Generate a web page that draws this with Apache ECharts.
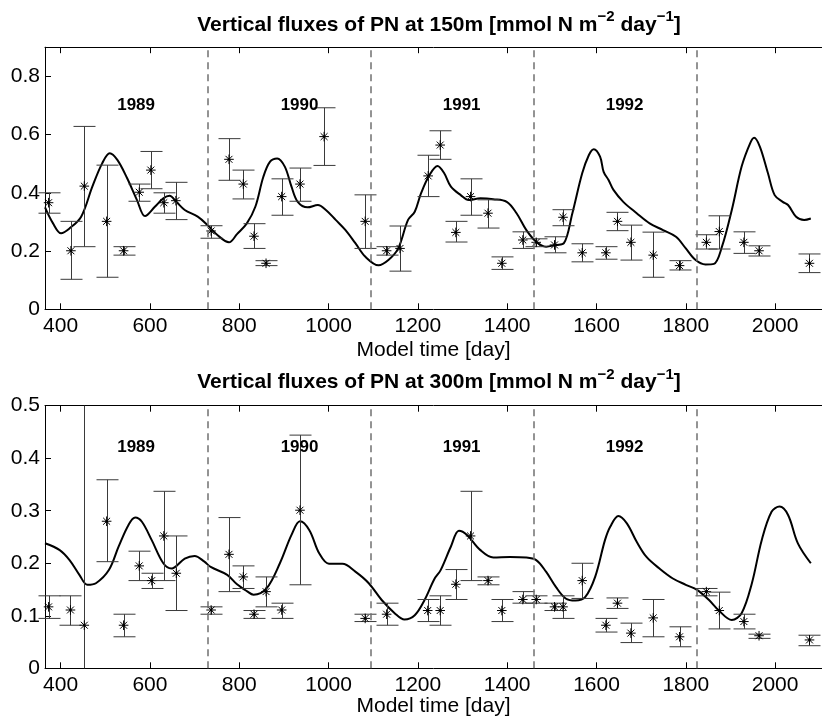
<!DOCTYPE html>
<html><head><meta charset="utf-8">
<script src="https://cdn.jsdelivr.net/npm/echarts@6/dist/echarts.min.js"></script>
<style>html,body{margin:0;padding:0;background:#fff}#c{width:822px;height:719px}</style>
</head><body><div id="c"></div>
<script>
// ---- tick labels / annotations ----
const xTicks = [400, 600, 800, 1000, 1200, 1400, 1600, 1800, 2000];
const yTicks150 = [0, 0.2, 0.4, 0.6, 0.8];
const yTicks300 = [0, 0.1, 0.2, 0.3, 0.4, 0.5];
const yearStarts = [730, 1095, 1460, 1825];
const yearLabels = ['1989', '1990', '1991', '1992'];
const yearLabelDays = [569, 935, 1298, 1663];
const yearLabelVal150 = 0.70;
const yearLabelVal300 = 0.42;

// ---- model curve, 150 m ----
const modelDay150 = [365,383,401,420,446,471,493,510,527,549,571,589,611,630,644,659,678,707,729,751,777,795,817,836,854,869,885,902,917,931,953,976,994,1016,1038,1060,1082,1112,1134,1156,1178,1193,1207,1226,1244,1259,1274,1296,1314,1340,1369,1399,1421,1443,1465,1487,1509,1527,1546,1568,1583,1594,1608,1616,1627,1638,1660,1690,1719,1749,1778,1800,1822,1844,1863,1881,1903,1925,1944,1953,1966,1984,1999,2017,2029,2047,2065,2080];
const modelVal150 = [0.350,0.295,0.261,0.278,0.318,0.421,0.501,0.536,0.513,0.450,0.375,0.320,0.352,0.381,0.390,0.369,0.341,0.318,0.289,0.255,0.230,0.258,0.295,0.352,0.455,0.507,0.518,0.490,0.421,0.369,0.350,0.358,0.341,0.307,0.272,0.227,0.181,0.151,0.169,0.209,0.307,0.335,0.398,0.461,0.492,0.467,0.421,0.392,0.375,0.381,0.378,0.369,0.330,0.272,0.232,0.215,0.221,0.227,0.330,0.467,0.530,0.550,0.524,0.472,0.444,0.410,0.369,0.330,0.295,0.272,0.249,0.209,0.169,0.154,0.156,0.215,0.341,0.490,0.570,0.589,0.558,0.467,0.392,0.369,0.358,0.318,0.307,0.312];

// ---- observations, 150 m ----
const obsDay150 = [373,423,453,503,541,576,602,631,658,737,777,809,833,860,895,936,990,1082,1130,1160,1223,1250,1285,1318,1357,1388,1435,1465,1506,1525,1568,1621,1647,1677,1727,1786,1846,1875,1930,1964,2077];
const obsVal150 = [0.366,0.201,0.423,0.302,0.201,0.402,0.478,0.366,0.373,0.269,0.515,0.430,0.251,0.158,0.387,0.430,0.593,0.302,0.201,0.209,0.458,0.564,0.264,0.387,0.330,0.158,0.238,0.230,0.221,0.316,0.194,0.194,0.302,0.230,0.186,0.150,0.230,0.267,0.230,0.201,0.158];
const obsLow150 = [0.330,0.103,0.215,0.110,0.186,0.371,0.414,0.330,0.308,0.244,0.443,0.379,0.209,0.150,0.323,0.371,0.494,0.209,0.186,0.131,0.387,0.515,0.231,0.323,0.279,0.137,0.209,0.215,0.194,0.287,0.163,0.172,0.270,0.169,0.110,0.135,0.207,0.207,0.192,0.183,0.126];
const obsHigh150 = [0.400,0.302,0.628,0.495,0.215,0.430,0.542,0.400,0.436,0.287,0.586,0.478,0.294,0.167,0.448,0.485,0.692,0.393,0.215,0.286,0.529,0.613,0.302,0.448,0.376,0.180,0.266,0.242,0.249,0.342,0.225,0.215,0.333,0.289,0.265,0.167,0.256,0.321,0.266,0.218,0.190];

// ---- model curve, 300 m ----
const modelDay300 = [365,398,420,442,460,479,508,530,552,567,582,604,630,648,678,700,722,736,773,795,817,832,861,891,917,936,957,979,1001,1031,1060,1090,1119,1148,1170,1193,1215,1237,1251,1274,1292,1310,1340,1369,1406,1443,1465,1487,1509,1531,1553,1575,1597,1619,1631,1649,1668,1690,1712,1741,1771,1800,1826,1852,1874,1903,1925,1948,1970,1992,2010,2029,2051,2080];
const modelVal300 = [0.238,0.225,0.206,0.178,0.159,0.162,0.187,0.232,0.273,0.287,0.279,0.244,0.200,0.190,0.209,0.214,0.203,0.193,0.178,0.160,0.147,0.140,0.152,0.200,0.254,0.280,0.263,0.219,0.199,0.199,0.184,0.162,0.130,0.105,0.093,0.101,0.130,0.170,0.187,0.232,0.262,0.254,0.225,0.211,0.212,0.211,0.206,0.184,0.155,0.133,0.129,0.136,0.174,0.244,0.270,0.290,0.276,0.241,0.212,0.190,0.171,0.159,0.149,0.130,0.110,0.092,0.105,0.162,0.244,0.298,0.308,0.292,0.238,0.200];

// ---- observations, 300 m ----
const obsDay300 = [373,422,453,503,541,576,604,631,659,737,777,809,833,860,895,936,1082,1130,1222,1250,1285,1318,1357,1388,1435,1465,1506,1525,1568,1621,1647,1677,1727,1786,1846,1875,1930,1964,2077];
const obsVal300 = [0.117,0.111,0.082,0.280,0.082,0.195,0.167,0.252,0.181,0.111,0.217,0.174,0.103,0.146,0.111,0.301,0.095,0.103,0.110,0.110,0.160,0.252,0.167,0.110,0.131,0.131,0.117,0.117,0.167,0.082,0.124,0.067,0.096,0.060,0.146,0.110,0.089,0.062,0.054];
const obsLow300 = [0.095,0.082,-0.05,0.203,0.060,0.167,0.152,0.167,0.110,0.103,0.146,0.152,0.095,0.117,0.095,0.159,0.089,0.082,0.089,0.082,0.131,0.167,0.159,0.089,0.124,0.124,0.110,0.095,0.133,0.069,0.114,0.049,0.060,0.041,0.138,0.075,0.075,0.057,0.043];
const obsHigh300 = [0.138,0.138,0.65,0.359,0.103,0.223,0.181,0.337,0.252,0.117,0.287,0.195,0.110,0.174,0.124,0.444,0.103,0.124,0.131,0.138,0.188,0.337,0.174,0.131,0.146,0.138,0.124,0.138,0.200,0.095,0.134,0.086,0.131,0.079,0.152,0.145,0.103,0.065,0.063];

const FONT = '"Liberation Sans", Arial, Helvetica, sans-serif';
const zip = (a, b) => a.map((v, i) => [v, b[i]]);
const obsData = (d, v, lo, hi) => d.map((x, i) => [x, v[i], lo[i], hi[i]]);

function renderObs(params, api) {
  const day = api.value(0);
  const p = api.coord([day, api.value(1)]);
  const lo = api.coord([day, api.value(2)]);
  const hi = api.coord([day, api.value(3)]);
  const cs = params.coordSys;
  const top = cs.y, bot = cs.y + cs.height;
  const x = Math.round(p[0]) + 0.5;
  const ch = [];
  const bar = { stroke: '#3a3a3a', lineWidth: 1 };
  ch.push({ type: 'line', shape: { x1: x, y1: Math.max(hi[1], top), x2: x, y2: Math.min(lo[1], bot) }, style: bar });
  const hw = 11;
  if (hi[1] >= top) ch.push({ type: 'line', shape: { x1: x - hw, y1: hi[1], x2: x + hw, y2: hi[1] }, style: bar });
  if (lo[1] <= bot) ch.push({ type: 'line', shape: { x1: x - hw, y1: lo[1], x2: x + hw, y2: lo[1] }, style: bar });
  const r = 4.8, d = r * 0.72;
  const st = { stroke: '#000', lineWidth: 1 };
  const cx = p[0], cy = p[1];
  ch.push({ type: 'line', shape: { x1: cx - r, y1: cy, x2: cx + r, y2: cy }, style: st });
  ch.push({ type: 'line', shape: { x1: cx, y1: cy - r, x2: cx, y2: cy + r }, style: st });
  ch.push({ type: 'line', shape: { x1: cx - d, y1: cy - d, x2: cx + d, y2: cy + d }, style: st });
  ch.push({ type: 'line', shape: { x1: cx - d, y1: cy + d, x2: cx + d, y2: cy - d }, style: st });
  ch.push({ type: 'circle', shape: { cx: cx, cy: cy, r: 1.3 }, style: { fill: '#000' } });
  return { type: 'group', children: ch };
}

function renderYear(params, api) {
  const p = api.coord([api.value(0), api.value(1)]);
  return { type: 'text', x: p[0], y: p[1],
    style: { text: yearLabels[params.dataIndex], fill: '#000', fontSize: 17, fontWeight: 'bold',
      fontFamily: FONT, align: 'center', verticalAlign: 'middle' } };
}

const XMIN = 365, XMAX = 2105;
function xAxes(grid, nameGap) {
  return [
    { type: 'value', gridIndex: grid, min: XMIN, max: XMAX, position: 'bottom',
      axisLine: { onZero: false, lineStyle: { color: '#000', width: 1 } },
      axisTick: { inside: true, length: 6, customValues: xTicks, lineStyle: { color: '#000' } },
      axisLabel: { customValues: xTicks, fontSize: 21, margin: 6, color: '#000', fontFamily: FONT,
        formatter: v => String(v) },
      splitLine: { show: false },
      name: 'Model time [day]', nameLocation: 'middle', nameGap: nameGap,
      nameTextStyle: { fontSize: 21, color: '#000', fontFamily: FONT } },
    { type: 'value', gridIndex: grid, min: XMIN, max: XMAX, position: 'top',
      axisLine: { onZero: false, lineStyle: { color: '#000', width: 1 } },
      axisTick: { inside: true, length: 6, customValues: xTicks, lineStyle: { color: '#000' } },
      axisLabel: { show: false }, splitLine: { show: false } }
  ];
}
function yAxis(grid, max, ticks) {
  return { type: 'value', gridIndex: grid, min: 0, max: max, position: 'left',
    axisLine: { show: true, onZero: false, lineStyle: { color: '#000', width: 1 } },
    axisTick: { show: true, inside: true, length: 6, customValues: ticks, lineStyle: { color: '#000' } },
    axisLabel: { customValues: ticks, fontSize: 21, margin: 5, color: '#000', fontFamily: FONT,
      formatter: v => String(v) },
    splitLine: { show: false } };
}

function panelSeries(xi, yi, mDay, mVal, oD, oV, oL, oH, labelVal) {
  return [
    { type: 'line', xAxisIndex: xi, yAxisIndex: yi, data: zip(mDay, mVal), showSymbol: false,
      smooth: 0.35, lineStyle: { color: '#000', width: 2 }, silent: true, z: 3,
      markLine: { silent: true, symbol: 'none', label: { show: false },
        lineStyle: { color: '#707070', type: [7, 5], width: 1.5 },
        data: yearStarts.map(v => ({ xAxis: v })) } },
    { type: 'custom', xAxisIndex: xi, yAxisIndex: yi, renderItem: renderObs,
      data: obsData(oD, oV, oL, oH), encode: { x: 0, y: 1 }, z: 4, silent: true },
    { type: 'custom', xAxisIndex: xi, yAxisIndex: yi, renderItem: renderYear, z: 5, silent: true,
      data: yearLabelDays.map(d => [d, labelVal]), encode: { x: 0, y: 1 } }
  ];
}

const rich = {
  m: { fontSize: 21, fontWeight: 'bold', fontFamily: FONT, fill: '#000', height: 21, lineHeight: 21, verticalAlign: 'bottom' },
  s: { fontSize: 15, fontWeight: 'bold', fontFamily: FONT, fill: '#000', height: 15, lineHeight: 26, verticalAlign: 'top' }
};
function titleText(depth) {
  return '{m|Vertical fluxes of PN at ' + depth + ' [mmol N m}{s|\u22122}{m| day}{s|\u22121}{m|]}';
}

const chart = echarts.init(document.getElementById('c'), null, { renderer: 'canvas' });
chart.setOption({
  animation: false,
  backgroundColor: '#fff',
  grid: [
    { left: 45, top: 47.2, width: 788, height: 262.1 },
    { left: 45, top: 405.7, width: 788, height: 262.6 }
  ],
  xAxis: [...xAxes(0, 30), ...xAxes(1, 19)],
  yAxis: [yAxis(0, 0.9, yTicks150), yAxis(1, 0.5, yTicks300)],
  graphic: [
    { type: 'text', x: 439, y: 22.5, style: { text: titleText('150m'), rich: rich, align: 'center', verticalAlign: 'middle' } },
    { type: 'text', x: 439, y: 380, style: { text: titleText('300m'), rich: rich, align: 'center', verticalAlign: 'middle' } }
  ],
  series: [
    ...panelSeries(0, 0, modelDay150, modelVal150, obsDay150, obsVal150, obsLow150, obsHigh150, yearLabelVal150),
    ...panelSeries(2, 1, modelDay300, modelVal300, obsDay300, obsVal300, obsLow300, obsHigh300, yearLabelVal300)
  ]
});
</script></body></html>
